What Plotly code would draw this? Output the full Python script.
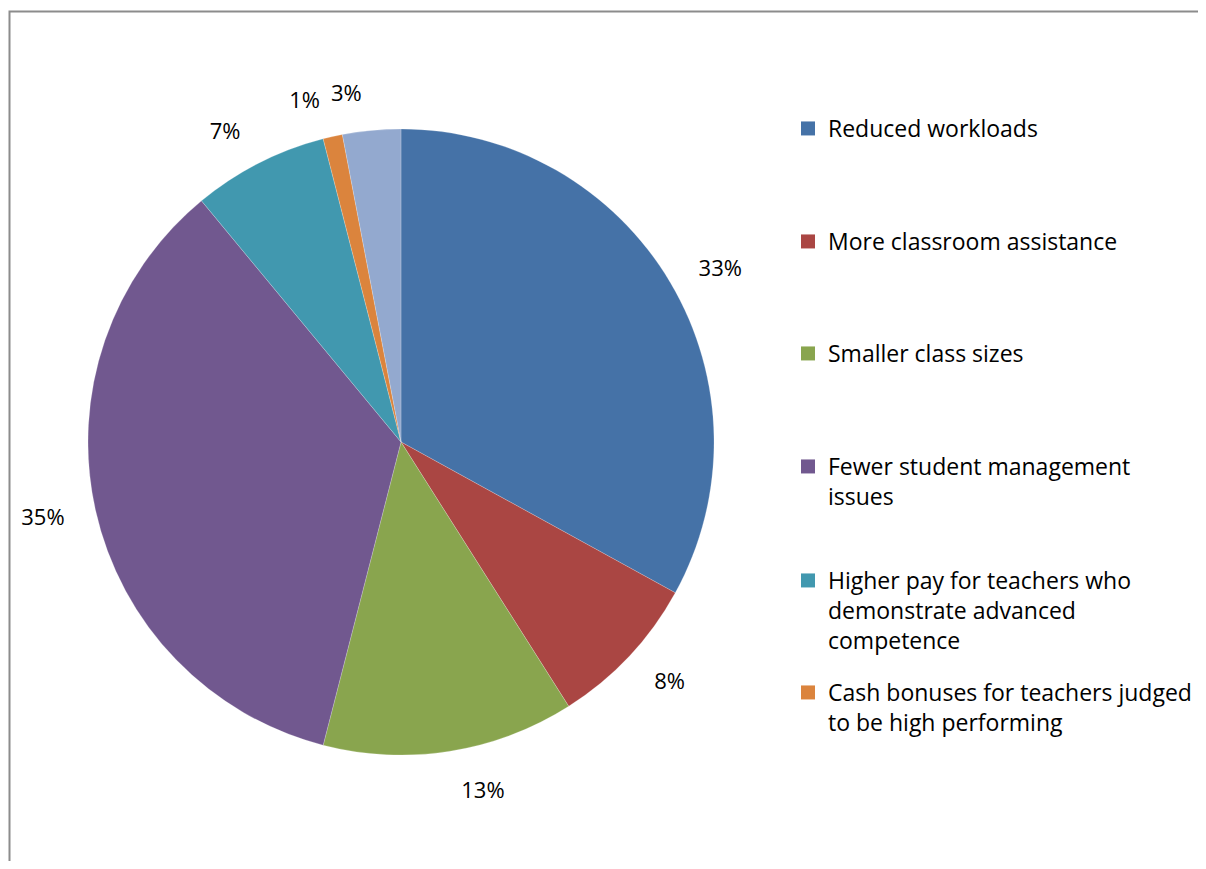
import plotly.graph_objects as go

# ---- data ----
categories = [
    "Reduced workloads",
    "More classroom assistance",
    "Smaller class sizes",
    "Fewer student management issues",
    "Higher pay for teachers who demonstrate advanced competence",
    "Cash bonuses for teachers judged to be high performing",
    "Other",
]
legend_labels = [
    "Reduced workloads",
    "More classroom assistance",
    "Smaller class sizes",
    "Fewer student management<br>issues",
    "Higher pay for teachers who<br>demonstrate advanced<br>competence",
    "Cash bonuses for teachers judged<br>to be high performing",
]
values = [33, 8, 13, 35, 7, 1, 3]
colors = ["#4572A7", "#AA4643", "#89A54E", "#71588F", "#4198AF", "#DB843D", "#93A9CF"]

W, H = 1198, 853
FONT = "Open Sans"
FS = 23

# pie geometry (pixels in figure space)
cx, cy, r = 393, 434, 313
r_lab = 337

def dom(radius):
    return dict(x=[(cx - radius) / W, (cx + radius) / W],
                y=[1 - (cy + radius) / H, 1 - (cy - radius) / H])

fig = go.Figure()

# visible pie
fig.add_trace(go.Pie(
    labels=categories, values=values, sort=False, direction="clockwise",
    rotation=0, marker=dict(colors=colors, line=dict(width=0.5, color="rgba(255,255,255,0.4)")),
    textinfo="none", hoverinfo="label+percent", showlegend=False,
    domain=dom(r),
))

# transparent larger pies carrying the outside percentage labels
# (split into two traces so neighbouring small-slice labels are not scooted)
label_sets = [
    [i for i in range(len(values)) if i != 5],
    [5],
]
for idxs in label_sets:
    tmpl = ["%{percent:.0%}" if i in idxs else "" for i in range(len(values))]
    fig.add_trace(go.Pie(
        labels=categories, values=values, sort=False, direction="clockwise",
        rotation=0, marker=dict(colors=["rgba(0,0,0,0)"] * len(values), line=dict(width=0)),
        texttemplate=tmpl, textposition="outside",
        outsidetextfont=dict(family=FONT, size=FS - 1, color="#000000"),
        hoverinfo="skip", showlegend=False, domain=dom(r_lab),
    ))

# legend entries: one legend each so spacing matches
legend_tops = [99, 212, 324, 437, 551, 663]
layout_legends = {}
for i, lab in enumerate(legend_labels):
    key = "legend" if i == 0 else f"legend{i+1}"
    fig.add_trace(go.Scatter(
        x=[None], y=[None], mode="markers", name=lab,
        marker=dict(symbol="square", size=14, color=colors[i]),
        legend=key, xaxis="x", yaxis="y", hoverinfo="skip",
    ))
    layout_legends[key] = dict(
        x=780 / W, xanchor="left", y=1 - legend_tops[i] / H, yanchor="top",
        font=dict(family=FONT, size=FS, color="#000000"),
        bgcolor="rgba(0,0,0,0)", borderwidth=0, valign="top",
        itemclick=False, itemdoubleclick=False,
    )

fig.update_layout(
    width=W, height=H,
    margin=dict(l=0, r=0, t=0, b=0),
    paper_bgcolor="white", plot_bgcolor="rgba(0,0,0,0)",
    xaxis=dict(visible=False), yaxis=dict(visible=False),
    font=dict(family=FONT, color="#000000"),
    shapes=[dict(type="rect", xref="paper", yref="paper",
                 x0=1.5 / W, x1=1.05, y0=-0.05, y1=1 - 3.5 / H,
                 line=dict(color="#8c8c8c", width=2), fillcolor="rgba(0,0,0,0)")],
    **layout_legends,
)

fig.write_html("out.html")
